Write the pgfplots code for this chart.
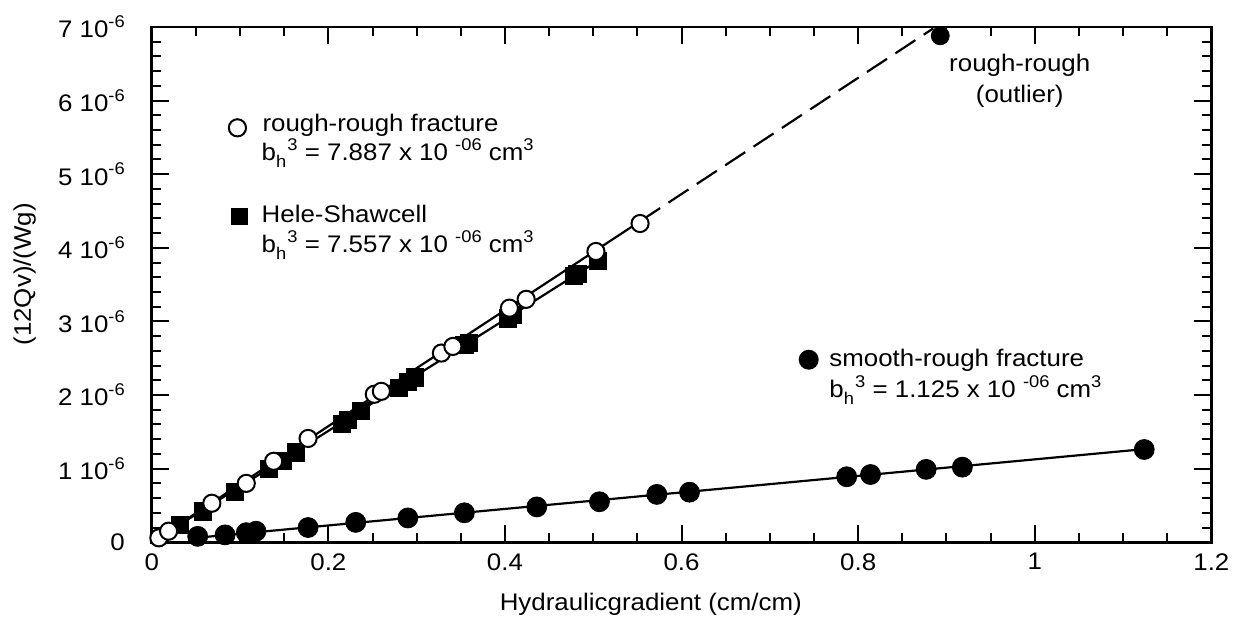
\documentclass[border=0pt]{standalone}
\usepackage{fontspec}
\setmainfont{Liberation Sans}[FakeStretch=1.08]
\usepackage{pgfplots}
\pgfplotsset{compat=1.18}
\usetikzlibrary{calc}
\newcommand{\sps}[1]{\raisebox{0.42em}{\fontsize{8.5}{9}\selectfont #1}}
\newcommand{\sbs}[1]{\raisebox{-0.32em}{\fontsize{8.5}{9}\selectfont #1}}
\newcommand{\bh}[1]{b\sbs{h}\kern0.05em\sps{3} = #1 x 10 \sps{-06} cm\sps{3}}
\newcommand{\tl}[1]{#1 10\sps{-6}}
\begin{document}
\begin{tikzpicture}[font=\fontsize{12}{14}\selectfont]
\begin{axis}[
  scale only axis,
  width=530.5pt, height=258pt,
  xmin=0, xmax=1.2, ymin=0, ymax=7,
  clip=false,
  axis line style={line width=1.3pt},
  xtick={0,0.2,0.4,0.6,0.8,1,1.2},
  xticklabels={0,0.2,0.4,0.6,0.8,1,1.2},
  ytick={0,1,2,3,4,5,6,7},
  yticklabels={0,\tl{1},\tl{2},\tl{3},\tl{4},\tl{5},\tl{6},\tl{7}},
  minor x tick num=3,
  minor y tick num=4,
  tick align=inside,
  xtick pos=both, ytick pos=both,
  major tick length=8.5pt,
  minor tick length=4.5pt,
  every tick/.append style={line width=1pt, black},
  yticklabel shift=10pt,
  xticklabel shift=2pt,
  xlabel={Hydraulicgradient (cm/cm)},
  ylabel={(12Qv)/(Wg)},
  xlabel style={at={(axis description cs:0.471,0)}, anchor=north, yshift=-22pt},
  ylabel style={at={(axis description cs:-0.12,0.52)}, anchor=center},
]
% Hele-Shaw cell (filled squares)
\addplot[only marks, mark=square*, mark size=4.3pt, black] coordinates {
(0.032,0.24) (0.058,0.42) (0.094,0.68) (0.133,1.00) (0.148,1.11) (0.163,1.22)
(0.215,1.61) (0.222,1.66) (0.237,1.78) (0.280,2.10) (0.290,2.18) (0.298,2.24)
(0.354,2.68) (0.359,2.71) (0.403,3.04) (0.409,3.09) (0.478,3.62) (0.482,3.64) (0.505,3.82)};
% rough-rough fracture (open circles)
\addplot[only marks, mark=*, mark size=4.3pt, mark options={fill=white, draw=black, line width=1pt}] coordinates {
(0.008,0.06) (0.019,0.15) (0.068,0.53) (0.107,0.80) (0.138,1.10) (0.177,1.41)
(0.252,2.01) (0.260,2.05) (0.328,2.57) (0.341,2.66) (0.405,3.18) (0.424,3.30)
(0.503,3.95) (0.553,4.33)};
% fit lines
\addplot[no marks, line width=1.1pt, black] coordinates {(0,0) (0.553,4.36)};
\addplot[no marks, line width=1.1pt, black, dash pattern=on 12pt off 5pt] coordinates {(0.553,4.36) (0.885,6.98)};
\addplot[no marks, line width=1.1pt, black] coordinates {(0,0) (0.505,3.82)};
\addplot[no marks, line width=1.1pt, black] coordinates {(0.05,0.06) (1.124,1.265)};
% smooth-rough fracture (filled circles)
\addplot[only marks, mark=*, mark size=5pt, black] coordinates {
(0.052,0.08) (0.083,0.10) (0.107,0.13) (0.118,0.15) (0.177,0.20) (0.231,0.27)
(0.290,0.33) (0.354,0.40) (0.436,0.48) (0.507,0.55) (0.572,0.65) (0.609,0.68)
(0.787,0.89) (0.814,0.92) (0.877,0.99) (0.918,1.02) (1.124,1.26)};
% rough-rough outlier
\addplot[only marks, mark=*, mark size=4.5pt, black] coordinates {(0.893,6.88)};
% annotations
\node[inner sep=0] at (axis cs:0.097,5.63) {\tikz\draw[line width=1pt] (0,0) circle (4.3pt);};
\node[anchor=base west, inner sep=0] at (axis cs:0.125,5.58) {rough-rough fracture};
\node[anchor=base west, inner sep=0] at (axis cs:0.124,5.19) {\bh{7.887}};
\node[inner sep=0] at (axis cs:0.0995,4.43) {\tikz\fill (0,0) rectangle (8.6pt,8.6pt);};
\node[anchor=base west, inner sep=0] at (axis cs:0.124,4.34) {Hele-Shawcell};
\node[anchor=base west, inner sep=0] at (axis cs:0.124,3.94) {\bh{7.557}};
\node[inner sep=0] at (axis cs:0.744,2.48) {\tikz\fill (0,0) circle (5pt);};
\node[anchor=base west, inner sep=0] at (axis cs:0.767,2.39) {smooth-rough fracture};
\node[anchor=base west, inner sep=0] at (axis cs:0.767,1.97) {\bh{1.125}};
\node[anchor=base, inner sep=0] at (axis cs:0.983,6.39) {rough-rough};
\node[anchor=base, inner sep=0] at (axis cs:0.983,5.98) {(outlier)};
\end{axis}
\path ($(current axis.south west)+(-76pt,-42.5pt)$) rectangle ($(current axis.north east)+(11.5pt,13.5pt)$);
\end{tikzpicture}
\end{document}
